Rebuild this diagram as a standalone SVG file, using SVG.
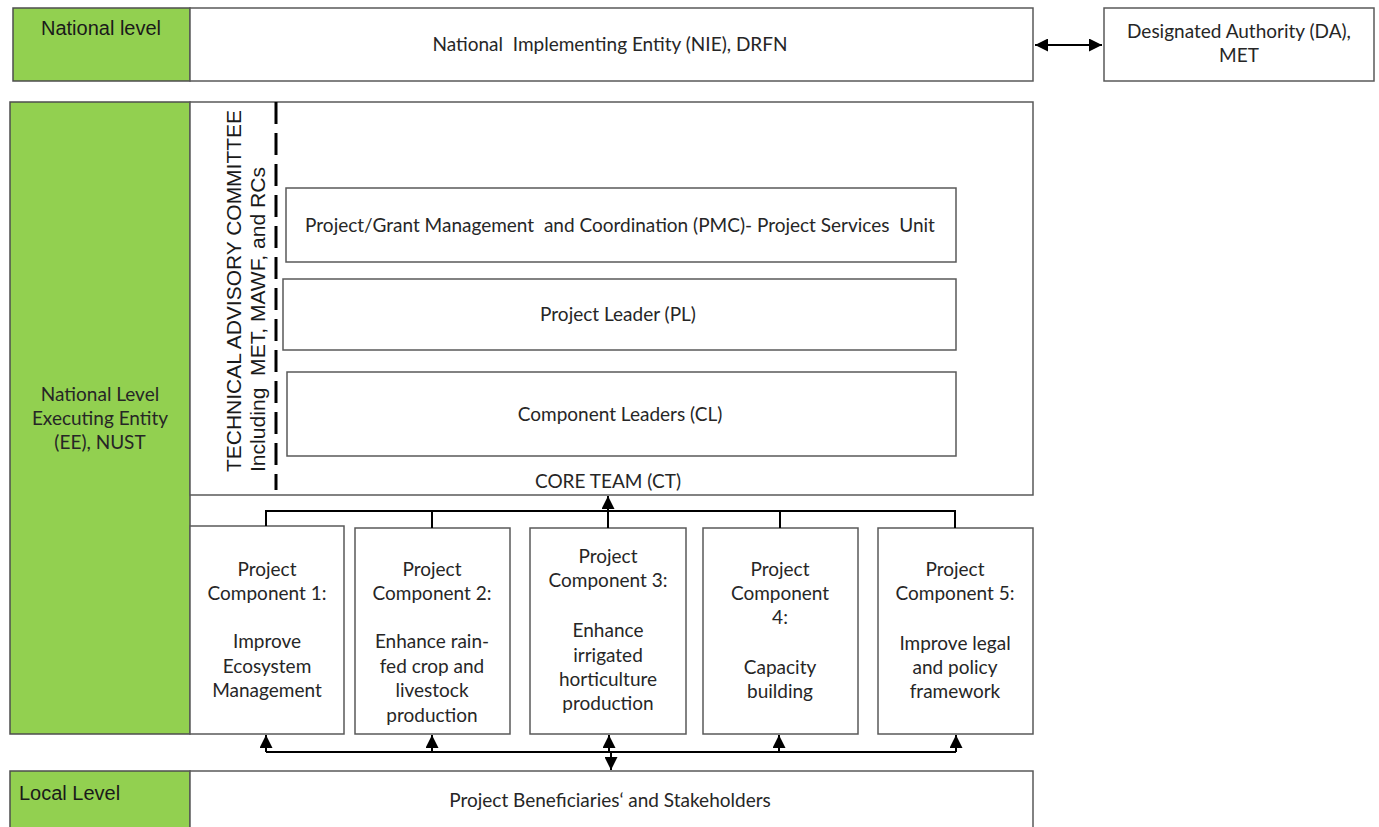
<svg xmlns="http://www.w3.org/2000/svg" width="1379" height="827" viewBox="0 0 1379 827">
<defs>
<style>
.g{fill:#92D050;stroke:#4d4d4d;stroke-width:1.5}
.b{fill:#fff;stroke:#595959;stroke-width:1.5}
.t{font-family:Lato,"Open Sans",sans-serif;font-size:19px;fill:#262626;text-anchor:middle}
.a{font-family:"Liberation Sans",Arial,sans-serif;font-size:20px;fill:#1a1a1a}
.pre{white-space:pre}
.c{fill:none;stroke:#000;stroke-width:2}
</style>
<marker id="ahs" viewBox="0 0 10 10" refX="10" refY="5" markerWidth="13" markerHeight="13" markerUnits="userSpaceOnUse" orient="auto-start-reverse">
<path d="M0,0 L10,5 L0,10 z" fill="#000"/>
</marker>
</defs>
<rect width="1379" height="827" fill="#fff"/>

<g id="national-level">
<rect class="g" x="13" y="8" width="177" height="73"/>
<text class="a" x="101" y="35" text-anchor="middle">National level</text>
</g>
<g id="nie">
<rect class="b" x="190" y="8" width="843" height="73"/>
<text class="t pre" x="610" y="51">National  Implementing Entity (NIE), DRFN</text>
</g>
<g id="da">
<rect class="b" x="1104" y="8" width="270" height="73"/>
<text class="t" x="1239" y="38">Designated Authority (DA),</text>
<text class="t" x="1239" y="62">MET</text>
</g>

<g id="ee">
<rect class="g" x="10" y="102" width="180" height="632"/>
<text class="t" x="100" y="401">National Level</text>
<text class="t" x="100" y="425">Executing Entity</text>
<text class="t" x="100" y="449">(EE), NUST</text>
</g>
<g id="core-team">
<rect class="b" x="190" y="102" width="843" height="393"/>
<text class="t" x="608" y="488">CORE TEAM (CT)</text>
</g>
<g id="tac">
<line x1="276" y1="102" x2="276" y2="490" stroke="#000" stroke-width="3" stroke-dasharray="22 9"/>
<text class="a" transform="translate(241,472) rotate(-90)" font-size="20" textLength="362" lengthAdjust="spacingAndGlyphs">TECHNICAL ADVISORY COMMITTEE</text>
<text class="a pre" transform="translate(265,472) rotate(-90)" font-size="20" textLength="305" lengthAdjust="spacingAndGlyphs">Including  MET, MAWF, and RCs</text>
</g>
<g id="pmc">
<rect class="b" x="286" y="188" width="670" height="74"/>
<text class="t pre" x="620" y="232">Project/Grant Management  and Coordination (PMC)- Project Services  Unit</text>
</g>
<g id="pl">
<rect class="b" x="283" y="279" width="673" height="71"/>
<text class="t" x="618" y="321">Project Leader (PL)</text>
</g>
<g id="cl">
<rect class="b" x="287" y="372" width="669" height="84"/>
<text class="t" x="620" y="421">Component Leaders (CL)</text>
</g>

<g id="pc1">
<rect class="b" x="190" y="526" width="154" height="208"/>
<text class="t" x="267" y="576">Project</text>
<text class="t" x="267" y="600">Component 1:</text>
<text class="t" x="267" y="648">Improve</text>
<text class="t" x="267" y="673">Ecosystem</text>
<text class="t" x="267" y="697">Management</text>
</g>
<g id="pc2">
<rect class="b" x="355" y="528" width="155" height="206"/>
<text class="t" x="432" y="576">Project</text>
<text class="t" x="432" y="600">Component 2:</text>
<text class="t" x="432" y="648">Enhance rain-</text>
<text class="t" x="432" y="673">fed crop and</text>
<text class="t" x="432" y="697">livestock</text>
<text class="t" x="432" y="722">production</text>
</g>
<g id="pc3">
<rect class="b" x="530" y="528" width="156" height="206"/>
<text class="t" x="608" y="563">Project</text>
<text class="t" x="608" y="587">Component 3:</text>
<text class="t" x="608" y="637">Enhance</text>
<text class="t" x="608" y="662">irrigated</text>
<text class="t" x="608" y="686">horticulture</text>
<text class="t" x="608" y="710">production</text>
</g>
<g id="pc4">
<rect class="b" x="703" y="528" width="155" height="206"/>
<text class="t" x="780" y="576">Project</text>
<text class="t" x="780" y="600">Component</text>
<text class="t" x="780" y="624">4:</text>
<text class="t" x="780" y="674">Capacity</text>
<text class="t" x="780" y="698">building</text>
</g>
<g id="pc5">
<rect class="b" x="878" y="528" width="155" height="206"/>
<text class="t" x="955" y="576">Project</text>
<text class="t" x="955" y="600">Component 5:</text>
<text class="t" x="955" y="650">Improve legal</text>
<text class="t" x="955" y="674">and policy</text>
<text class="t" x="955" y="698">framework</text>
</g>

<g id="local-level">
<rect class="g" x="10" y="771" width="180" height="60"/>
<text class="a" x="19" y="800">Local Level</text>
</g>
<g id="beneficiaries">
<rect class="b" x="190" y="771" width="843" height="60"/>
<text class="t" x="610" y="807">Project Beneficiaries‘ and Stakeholders</text>
</g>

<g id="connectors">
<line class="c" x1="1035" y1="45" x2="1102" y2="45" marker-start="url(#ahs)" marker-end="url(#ahs)"/>
<path class="c" d="M266,526 V511 H955 V528 M432,511 V528 M780,511 V528"/>
<line class="c" x1="608" y1="528" x2="608" y2="496" marker-end="url(#ahs)"/>
<path class="c" d="M266,752 H956"/>
<line class="c" x1="266" y1="752" x2="266" y2="735" marker-end="url(#ahs)"/>
<line class="c" x1="432" y1="752" x2="432" y2="735" marker-end="url(#ahs)"/>
<line class="c" x1="609" y1="752" x2="609" y2="735" marker-end="url(#ahs)"/>
<line class="c" x1="779" y1="752" x2="779" y2="735" marker-end="url(#ahs)"/>
<line class="c" x1="956" y1="752" x2="956" y2="735" marker-end="url(#ahs)"/>
<line class="c" x1="611" y1="752" x2="611" y2="770" marker-end="url(#ahs)"/>
</g>
</svg>
